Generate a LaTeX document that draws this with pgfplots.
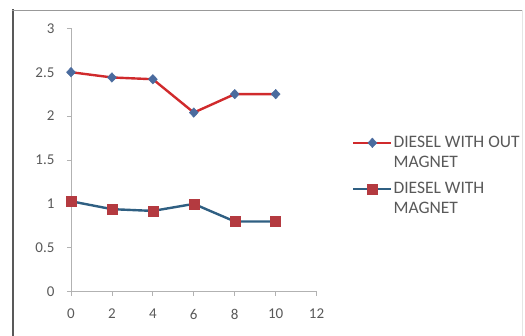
\documentclass[border=0pt]{standalone}
\usepackage{pgfplots}
\pgfplotsset{compat=1.18}
\usepackage{fontspec}
\setmainfont{Carlito}
\definecolor{redline}{HTML}{D02A2C}
\definecolor{bluemark}{HTML}{4A6B9E}
\definecolor{blueline}{HTML}{2F5F82}
\definecolor{redmark}{HTML}{B43A40}
\definecolor{txt}{HTML}{595959}
\begin{document}
\begin{tikzpicture}
\useasboundingbox (0,0) rectangle (525pt,336pt);
\draw[line width=2pt, color=black!65] (12.5pt,0pt) -- (12.5pt,326.5pt);
\draw[line width=1.5pt, color=black!40] (11.5pt,325.5pt) -- (522pt,325.5pt);
\draw[line width=0.6pt, color=black!10] (522pt,325.5pt) -- (522pt,0pt);
\begin{axis}[
  at={(71pt,44.3pt)}, anchor=south west,
  scale only axis, width=245.6pt, height=263.4pt,
  xmin=0, xmax=12, ymin=0, ymax=3,
  axis x line=bottom, axis y line=left,
  axis line style={black!30, -, line width=0.8pt},
  xtick={0,2,...,12}, ytick={0,0.5,...,3},
  tick align=outside, major tick length=4pt,
  tick style={black!30, line width=0.8pt},
  /pgf/number format/assume math mode=true,
  /pgf/number format/fixed,
  /pgf/number format/precision=1,
  tick label style={font=\fontsize{15}{17}\selectfont, text=txt},
  xticklabel style={yshift=-10pt},
  yticklabel style={xshift=-9pt},
  clip=false,
  legend cell align=left,
  legend style={at={(1.144,0.462)}, anchor=west, draw=none, fill=none,
    inner sep=0pt, font=\fontsize{17.5}{19}\selectfont, text=txt,
    row sep=21pt,
    nodes={inner xsep=1pt, inner ysep=0pt}},
  legend image code/.code={%
    \draw[mark repeat=2, mark phase=2, #1, yshift=4pt]
      plot coordinates {(0pt,0pt) (19pt,0pt) (38pt,0pt)};},
]
\addplot[redline, line width=2.4pt, mark=diamond*, mark size=4.8pt,
  mark options={fill=bluemark, draw=bluemark, line width=0.4pt, xscale=1.25}]
  coordinates {(0,2.50) (2,2.44) (4,2.42) (6,2.04) (8,2.25) (10,2.25)};
\addlegendentry{\begin{tabular}{@{}l@{}}DIESEL WITH OUT\\[1pt]MAGNET\end{tabular}}
\addplot[blueline, line width=2.4pt, mark=square*, mark size=5pt,
  mark options={fill=redmark, draw=redmark, line width=0.4pt}]
  coordinates {(0,1.03) (2,0.94) (4,0.92) (6,1.00) (8,0.80) (10,0.80)};
\addlegendentry{\begin{tabular}{@{}l@{}}DIESEL WITH\\[1pt]MAGNET\end{tabular}}
\end{axis}
\end{tikzpicture}
\end{document}
